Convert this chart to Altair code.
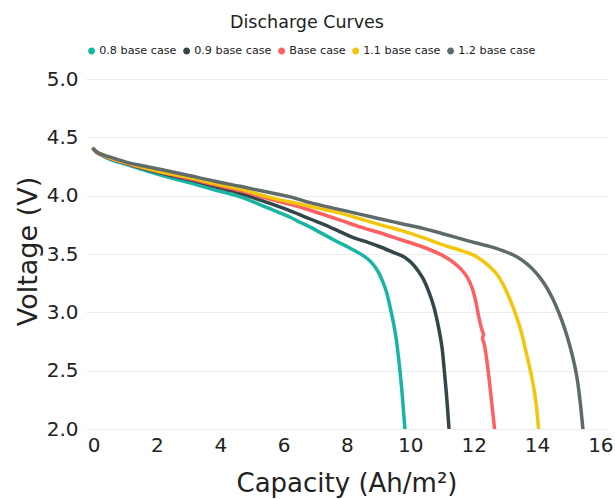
import altair as alt
import pandas as pd

series_names = ["0.8 base case", "0.9 base case", "Base case", "1.1 base case", "1.2 base case"]
series_colors = ["#17b5a4", "#33464a", "#fd6060", "#f3c60c", "#5f6b6b"]

cap_08 = [0, 0.1, 0.3, 0.53, 1.0, 1.47, 2.2, 3.05, 3.8, 4.63, 5.5, 6.21, 6.53, 6.84, 7.59, 8.1, 8.55,
          8.8, 8.98, 9.12, 9.24, 9.35, 9.46, 9.55, 9.62, 9.68, 9.73, 9.78, 9.83]
volt_08 = [4.40, 4.37, 4.34, 4.31, 4.27, 4.23, 4.17, 4.11, 4.05, 3.99, 3.895, 3.815, 3.77, 3.73, 3.62, 3.55, 3.48,
           3.42, 3.35, 3.27, 3.18, 3.06, 2.92, 2.78, 2.63, 2.48, 2.34, 2.17, 2.0]

cap_09 = [0, 0.1, 0.3, 0.53, 1.0, 1.47, 2.2, 3.05, 3.8, 4.63, 5.5, 6.21, 6.84, 7.3, 7.79, 8.2, 8.66, 9.06,
          9.5, 9.83, 10.05, 10.26, 10.42, 10.58, 10.74, 10.9, 11.0, 11.06, 11.14, 11.22]
volt_09 = [4.40, 4.37, 4.345, 4.32, 4.28, 4.24, 4.19, 4.135, 4.08, 4.02, 3.94, 3.87, 3.80, 3.75, 3.69, 3.64, 3.60, 3.56,
           3.51, 3.47, 3.42, 3.35, 3.28, 3.18, 3.05, 2.86, 2.70, 2.54, 2.30, 2.01]

cap_10 = [0, 0.1, 0.3, 0.53, 1.0, 1.47, 2.2, 3.05, 3.8, 4.63, 5.5, 6.21, 6.84, 7.79, 8.43, 9.06, 9.73, 10.4,
          11.0, 11.3, 11.6, 11.8, 11.95, 12.07, 12.17, 12.26, 12.31, 12.28, 12.34, 12.42, 12.5, 12.58, 12.66]
volt_10 = [4.40, 4.37, 4.345, 4.32, 4.28, 4.245, 4.195, 4.145, 4.095, 4.043, 3.975, 3.925, 3.875, 3.79, 3.73, 3.68, 3.62, 3.56,
           3.49, 3.44, 3.37, 3.30, 3.21, 3.09, 2.95, 2.85, 2.81, 2.78, 2.72, 2.58, 2.40, 2.20, 2.0]

cap_11 = [0, 0.1, 0.3, 0.53, 1.0, 1.47, 2.2, 3.05, 3.8, 4.63, 5.5, 6.21, 6.84, 7.79, 8.43, 9.06, 9.73, 10.4,
          11.0, 11.6, 12.0, 12.29, 12.55, 12.75, 12.93, 13.1, 13.25, 13.35, 13.5, 13.62, 13.75, 13.88, 13.97, 14.05]
volt_11 = [4.40, 4.375, 4.35, 4.325, 4.285, 4.25, 4.20, 4.155, 4.105, 4.057, 3.99, 3.945, 3.91, 3.85, 3.80, 3.75, 3.70, 3.64,
           3.58, 3.53, 3.49, 3.44, 3.38, 3.32, 3.24, 3.14, 3.04, 2.965, 2.835, 2.70, 2.55, 2.38, 2.22, 2.0]

cap_12 = [0, 0.1, 0.3, 0.53, 1.0, 1.47, 2.2, 3.05, 3.8, 4.63, 5.4, 6.21, 6.84, 7.79, 8.43, 9.06, 9.73, 10.4,
          10.95, 11.86, 12.5, 13.05, 13.4, 13.68, 13.9, 14.1, 14.3, 14.5, 14.7, 14.85, 14.95, 15.06, 15.2, 15.28,
          15.36, 15.45]
volt_12 = [4.40, 4.375, 4.35, 4.33, 4.29, 4.26, 4.22, 4.17, 4.125, 4.08, 4.035, 3.99, 3.94, 3.88, 3.84, 3.80, 3.76, 3.72,
           3.68, 3.61, 3.565, 3.515, 3.47, 3.415, 3.36, 3.295, 3.215, 3.115, 2.99, 2.88, 2.795, 2.69, 2.53, 2.41,
           2.24, 2.0]

x_ticks = [0, 2, 4, 6, 8, 10, 12, 14, 16]
y_ticks = [2.0, 2.5, 3.0, 3.5, 4.0, 4.5, 5.0]

rows = []
for name, caps, volts in zip(series_names,
                             [cap_08, cap_09, cap_10, cap_11, cap_12],
                             [volt_08, volt_09, volt_10, volt_11, volt_12]):
    for i, (c, v) in enumerate(zip(caps, volts)):
        rows.append({"series": name, "capacity": c, "voltage": v, "idx": i})
df = pd.DataFrame(rows)

FONT = "DejaVu Sans"
TXT = "#222222"

chart = alt.Chart(df).mark_line(
    strokeWidth=3.5, strokeCap="round", strokeJoin="round", clip=True, interpolate="catmull-rom"
).encode(
    x=alt.X("capacity:Q",
            scale=alt.Scale(domain=[-0.24, 16.21], nice=False, zero=False),
            axis=alt.Axis(values=x_ticks, title="Capacity (Ah/m²)", grid=False, domain=False, ticks=False,
                          labelFontSize=20, labelPadding=6, labelFlush=False, labelFont=FONT, labelColor=TXT,
                          titleFont=FONT, titleFontSize=26, titleFontWeight="normal", titleColor=TXT,
                          titleBaseline="alphabetic", titleY=62, titleX=260.5, titleAlign="center")),
    y=alt.Y("voltage:Q",
            scale=alt.Scale(domain=[2.0, 5.0], nice=False, zero=False),
            axis=alt.Axis(values=y_ticks, format=".1f", title="Voltage (V)", grid=True, gridColor="#ececec",
                          gridWidth=1, domain=False, ticks=False,
                          labelFontSize=20, labelPadding=8, labelFlush=False, labelFont=FONT, labelColor=TXT,
                          titleFont=FONT, titleFontSize=27, titleFontWeight="normal", titleColor=TXT,
                          titleBaseline="alphabetic", titleX=-50, titleY=172, titleAlign="center", titleAngle=270)),
    color=alt.Color("series:N",
                    scale=alt.Scale(domain=series_names, range=series_colors),
                    legend=alt.Legend(orient="none", legendX=0, legendY=-34, direction="horizontal", columns=5,
                                      title=None, symbolType="circle", symbolSize=12, symbolStrokeWidth=3.5,
                                      labelFont=FONT, labelFontSize=11.2, labelColor=TXT,
                                      columnPadding=0, labelOffset=2)),
    order=alt.Order("idx:Q"),
).properties(
    width=521, height=350,
    title=alt.Title("Discharge Curves", fontSize=17.5, fontWeight="normal", font=FONT, color=TXT,
                    anchor="middle", frame="group", dx=-39.5, dy=-10),
    autosize=alt.AutoSizeParams(type="none"),
    padding={"left": 86, "top": 79, "right": 8, "bottom": 70},
).configure_view(stroke=None)

chart.save("out.html", embed_options={"renderer": "svg", "actions": False})
